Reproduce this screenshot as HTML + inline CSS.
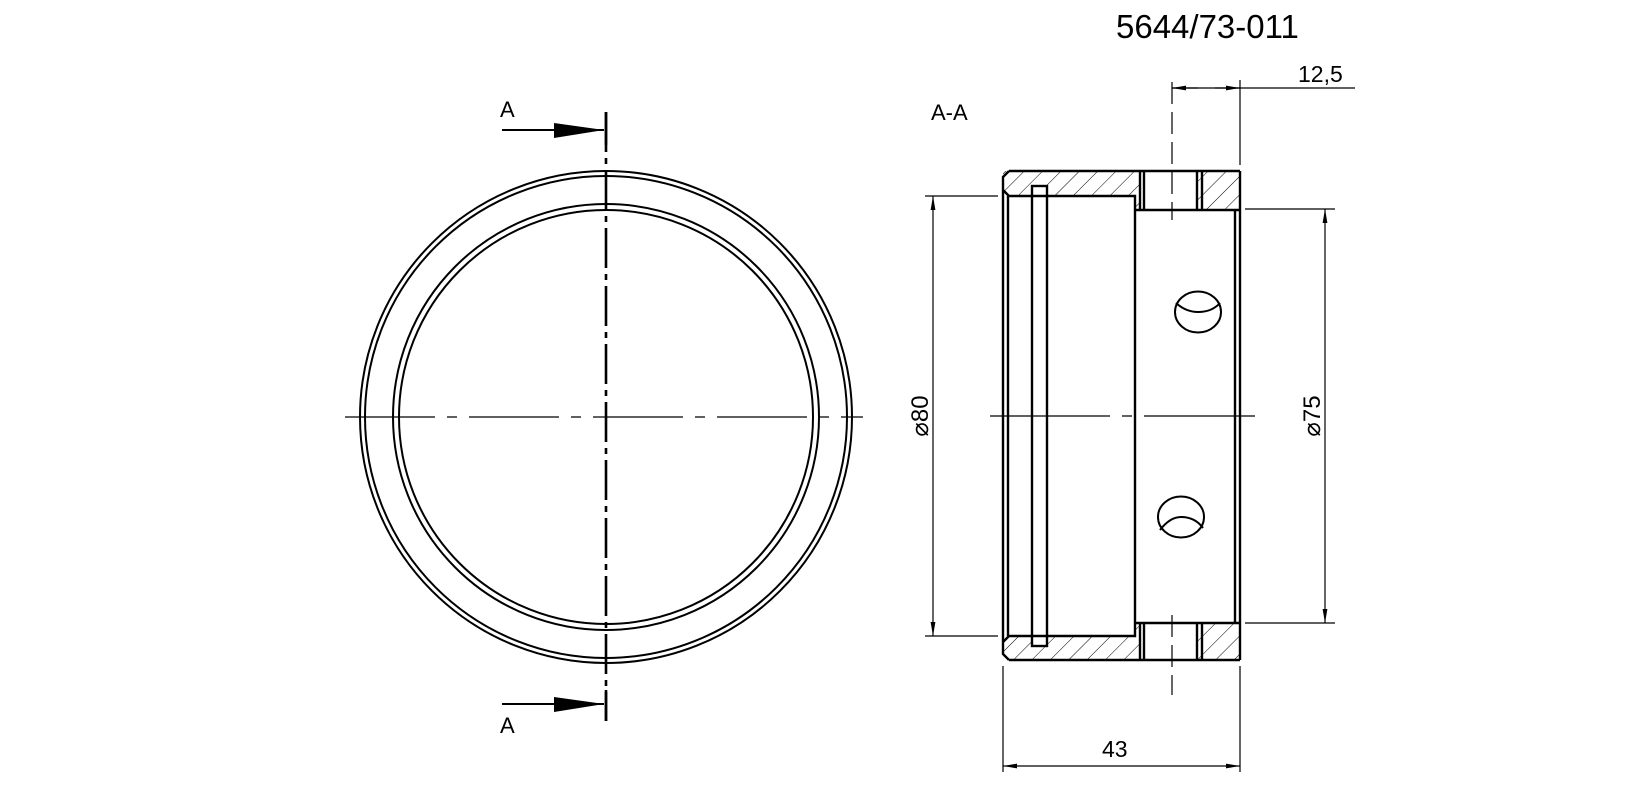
<!DOCTYPE html>
<html><head><meta charset="utf-8"><style>html,body{margin:0;padding:0;background:#fff}svg{display:block}text{font-family:"Liberation Sans",Arial,sans-serif;fill:#000}</style></head>
<body>
<svg width="1636" height="799" viewBox="0 0 1636 799" xmlns="http://www.w3.org/2000/svg">
<defs>
<pattern id="h" patternUnits="userSpaceOnUse" width="13" height="13" patternTransform="rotate(45)">
<line x1="0" y1="0" x2="0" y2="13" stroke="#000" stroke-width="1"/>
</pattern>
<marker id="ar" markerWidth="14" markerHeight="6" refX="14" refY="3" orient="auto" markerUnits="userSpaceOnUse"><path d="M0,0.6 L14,3 L0,5.4z" fill="#000"/></marker>
</defs>
<text x="1116" y="38" font-size="33">5644/73-011</text>
<!-- LEFT VIEW -->
<g fill="none" stroke="#000" stroke-width="2">
<circle cx="606" cy="417" r="246"/>
<circle cx="606" cy="417" r="241"/>
<circle cx="606" cy="417" r="213"/>
<circle cx="606" cy="417" r="207"/>
</g>
<line x1="345" y1="417" x2="863" y2="417" stroke="#000" stroke-width="1.2" stroke-dasharray="90,12,10,12"/>
<line x1="606" y1="112" x2="606" y2="721" stroke="#000" stroke-width="2.6" stroke-dasharray="40,6,6,6"/>
<line x1="606" y1="112" x2="606" y2="145" stroke="#000" stroke-width="2.6"/>
<line x1="606" y1="690" x2="606" y2="721" stroke="#000" stroke-width="2.6"/>
<line x1="502" y1="130" x2="604" y2="130" stroke="#000" stroke-width="2"/>
<path d="M554,123 L604,130 L554,138z" fill="#000"/>
<line x1="502" y1="704" x2="604" y2="704" stroke="#000" stroke-width="2"/>
<path d="M554,697 L604,704 L554,712z" fill="#000"/>
<text x="500" y="117" font-size="22">A</text>
<text x="500" y="733" font-size="22">A</text>
<!-- SECTION VIEW -->
<text x="931" y="120" font-size="22">A-A</text>
<g fill="url(#h)" stroke="none">
<rect x="1003" y="171" width="137" height="25"/>
<rect x="1135" y="196" width="5" height="14"/>
<rect x="1003" y="636" width="137" height="24"/>
<rect x="1135" y="623" width="5" height="13"/>
<rect x="1197" y="171" width="43" height="38"/>
<rect x="1197" y="623" width="43" height="37"/>
</g>
<rect x="1032" y="186" width="15" height="460" fill="#fff"/>
<g fill="none" stroke="#000" stroke-width="2.4">
<path d="M1009,171 L1240,171"/>
<path d="M1009,660 L1240,660"/>
<path d="M1009,171 L1003,177 L1003,654 L1009,660"/>
<path d="M1003,190 L1009,196 L1135,196 L1135,636 L1009,636 L1003,642"/>
<line x1="1008" y1="196" x2="1008" y2="636"/>
<rect x="1032" y="186" width="15" height="460"/>
<line x1="1135" y1="210" x2="1240" y2="210"/>
<line x1="1135" y1="623" x2="1240" y2="623"/>
<line x1="1240" y1="171" x2="1240" y2="660"/>
<line x1="1235" y1="210" x2="1235" y2="623"/>
<line x1="1140" y1="171" x2="1140" y2="210"/>
<line x1="1144" y1="171" x2="1144" y2="210"/>
<line x1="1197" y1="171" x2="1197" y2="210"/>
<line x1="1202" y1="171" x2="1202" y2="210"/>
<line x1="1140" y1="623" x2="1140" y2="660"/>
<line x1="1144" y1="623" x2="1144" y2="660"/>
<line x1="1197" y1="623" x2="1197" y2="660"/>
<line x1="1202" y1="623" x2="1202" y2="660"/>
</g>
<g fill="none" stroke="#000" stroke-width="2">
<ellipse cx="1198" cy="312" rx="23" ry="20.5"/>
<path d="M1176,303 Q1186,312 1198,312 Q1212,312 1220,303"/>
<ellipse cx="1181" cy="517" rx="23" ry="20.5"/>
<path d="M1160,530 Q1170,517 1181,517 Q1195,517 1203,528"/>
</g>
<line x1="990" y1="416" x2="1255" y2="416" stroke="#000" stroke-width="1.2" stroke-dasharray="120,12,10,12"/>
<line x1="1172" y1="82" x2="1172" y2="220" stroke="#000" stroke-width="1.2" stroke-dasharray="22,8"/>
<line x1="1172" y1="615" x2="1172" y2="695" stroke="#000" stroke-width="1.2" stroke-dasharray="22,8"/>
<!-- dims -->
<g stroke="#000" stroke-width="1.2" fill="none">
<line x1="1240" y1="80" x2="1240" y2="165"/>
<line x1="1172" y1="88" x2="1355" y2="88"/>
<line x1="1198" y1="88" x2="1172" y2="88" marker-end="url(#ar)"/>
<line x1="1215" y1="88" x2="1240" y2="88" marker-end="url(#ar)"/>
<line x1="925" y1="196" x2="998" y2="196"/>
<line x1="925" y1="636" x2="998" y2="636"/>
<line x1="933" y1="300" x2="933" y2="196" marker-end="url(#ar)"/>
<line x1="933" y1="300" x2="933" y2="636" marker-end="url(#ar)"/>
<line x1="1245" y1="209" x2="1335" y2="209"/>
<line x1="1245" y1="623" x2="1335" y2="623"/>
<line x1="1325" y1="300" x2="1325" y2="209" marker-end="url(#ar)"/>
<line x1="1325" y1="300" x2="1325" y2="623" marker-end="url(#ar)"/>
<line x1="1003" y1="666" x2="1003" y2="772"/>
<line x1="1240" y1="666" x2="1240" y2="772"/>
<line x1="1120" y1="766" x2="1003" y2="766" marker-end="url(#ar)"/>
<line x1="1120" y1="766" x2="1240" y2="766" marker-end="url(#ar)"/>
</g>
<text x="1298" y="82" font-size="23">12,5</text>
<text x="1102" y="757" font-size="23">43</text>
<text transform="translate(928,416) rotate(-90)" text-anchor="middle" font-size="24">⌀80</text>
<text transform="translate(1320,416) rotate(-90)" text-anchor="middle" font-size="24">⌀75</text>
</svg>
</body></html>
